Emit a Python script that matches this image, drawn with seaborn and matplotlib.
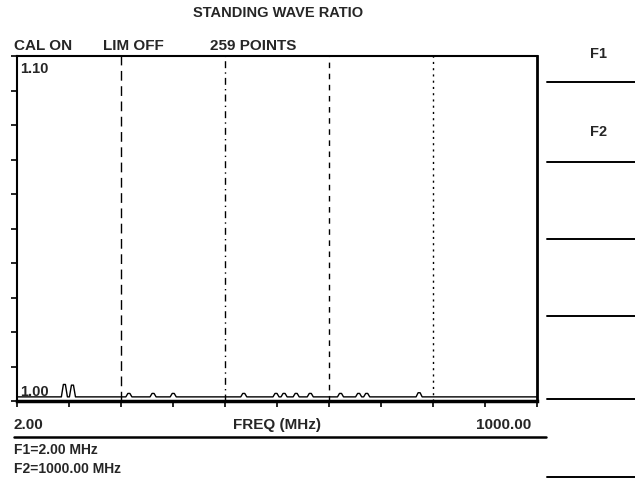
import numpy as np
import pandas as pd
import matplotlib
matplotlib.use("Agg")
import matplotlib.pyplot as plt
import seaborn as sns

# sweep settings
f_start = 2.0
f_stop = 1000.0
n_points = 259
swr_min = 1.00
swr_max = 1.10

# trace: flat floor with small spikes (MHz, SWR)
swr_floor = 1.0012
spike_freqs = [92, 106, 213, 261, 298, 434, 499, 514, 537, 562, 622, 655, 670, 770]
spike_swr = [1.0048, 1.0046, 1.0022, 1.0022, 1.0022, 1.0022, 1.0022, 1.0022,
             1.0022, 1.0022, 1.0022, 1.0022, 1.0022, 1.0024]

# graticule markers
marker_freqs = [201.6, 401.2, 600.8, 800.4]
marker_styles = [(0, (7, 4)), (0, (5, 3, 1, 3)), (0, (4, 4)), (0, (1.5, 3))]

softkey_labels = ["F1", "F2", "", "", "", ""]
softkey_lines_y = [0.827, 0.662, 0.501, 0.340, 0.168, 0.006]

freq = np.linspace(f_start, f_stop, n_points)
swr = np.full(n_points, swr_floor)
for f, s in zip(spike_freqs, spike_swr):
    i = np.abs(freq - f).argmin()
    swr[i] = s
    swr[min(i + 1, n_points - 1)] = s
df = pd.DataFrame({"freq": freq, "swr": swr})

sns.set_style("white")
plt.rcParams['font.family'] = ['Liberation Sans', 'DejaVu Sans']

fig = plt.figure(figsize=(6.35, 4.81), dpi=100)
ax = fig.add_axes([0.0268, 0.1642, 0.8189, 0.7173])

sns.lineplot(data=df, x="freq", y="swr", color="black", linewidth=1.0, ax=ax)

for f, ls in zip(marker_freqs, marker_styles):
    ax.axvline(f, color="black", linewidth=1.0, linestyle=ls)

ax.set_xlim(f_start, f_stop)
ax.set_ylim(swr_min, swr_max)
ax.set_xticks(np.linspace(f_start, f_stop, 11))
ax.set_yticks(np.linspace(swr_min, swr_max, 11))
ax.set_xticklabels([])
ax.set_yticklabels([])
ax.tick_params(axis="both", direction="out", length=4, width=1.2, color="black",
               bottom=True, left=True)
ax.set_xlabel("")
ax.set_ylabel("")
for side in ["left", "bottom", "top", "right"]:
    ax.spines[side].set_color("black")
    ax.spines[side].set_linewidth(1.5)
ax.spines["bottom"].set_linewidth(2.5)
ax.spines["right"].set_linewidth(2.0)

ax.text(0.006, 0.985, "1.10", transform=ax.transAxes, fontsize=10.5,
        fontweight="bold", va="top", ha="left")
ax.text(0.006, 0.01, "1.00", transform=ax.transAxes, fontsize=10.5,
        fontweight="bold", va="bottom", ha="left")

# header text
fig.text(0.438, 0.972, "STANDING WAVE RATIO", fontsize=10.5, fontweight="bold",
         ha="center", va="center")
fig.text(0.022, 0.905, "CAL ON", fontsize=11, fontweight="bold", ha="left", va="center")
fig.text(0.162, 0.905, "LIM OFF", fontsize=11, fontweight="bold", ha="left", va="center")
fig.text(0.331, 0.905, "259 POINTS", fontsize=11, fontweight="bold", ha="left", va="center")

# footer text
fig.text(0.022, 0.116, "2.00", fontsize=11, fontweight="bold", ha="left", va="center")
fig.text(0.436, 0.116, "FREQ (MHz)", fontsize=11, fontweight="bold", ha="center", va="center")
fig.text(0.836, 0.116, "1000.00", fontsize=11, fontweight="bold", ha="right", va="center")
fig.add_artist(plt.Line2D([0.022, 0.86], [0.089, 0.089], color="black", linewidth=1.8))
fig.text(0.022, 0.064, "F1=2.00 MHz", fontsize=10, fontweight="bold", ha="left", va="center")
fig.text(0.022, 0.024, "F2=1000.00 MHz", fontsize=10, fontweight="bold", ha="left", va="center")

# softkey panel
for lab, y in zip(softkey_labels, softkey_lines_y):
    fig.add_artist(plt.Line2D([0.862, 1.0], [y, y], color="black", linewidth=1.4))
fig.text(0.942, 0.888, softkey_labels[0], fontsize=10.5, fontweight="bold",
         ha="center", va="center")
fig.text(0.942, 0.725, softkey_labels[1], fontsize=10.5, fontweight="bold",
         ha="center", va="center")

fig.savefig("out.png", dpi=100, facecolor="white")
